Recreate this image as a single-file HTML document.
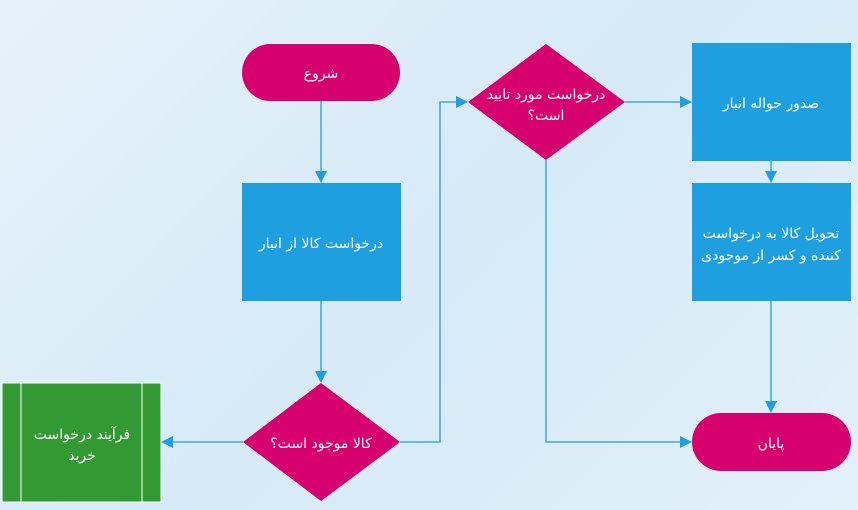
<!DOCTYPE html>
<html><head><meta charset="utf-8"><style>
html,body{margin:0;padding:0}
body{width:858px;height:510px;overflow:hidden;background:linear-gradient(135deg,#e6f2fb 0%,#d6eaf7 50%,#e2f0fa 100%);font-family:"Liberation Sans","Noto Sans CJK SC",sans-serif}
svg{position:absolute;left:0;top:0}
text{font-family:"DejaVu Sans","Noto Sans CJK SC",sans-serif;fill:#fff;font-size:14px;direction:rtl}
</style></head><body>
<svg width="858" height="510" viewBox="0 0 858 510">
<defs><marker id="a" markerWidth="12" markerHeight="12" refX="11" refY="6" orient="auto" markerUnits="userSpaceOnUse"><path d="M0,0 L12,6 L0,12 Z" fill="#1e9fe0"/></marker></defs>
<g stroke="#1e9fe0" stroke-width="1.3" fill="none">
<path d="M321,101 V182" marker-end="url(#a)"/>
<path d="M321,301 V382" marker-end="url(#a)"/>
<path d="M243,442 H162" marker-end="url(#a)"/>
<path d="M400,442 H440 V102 H467" marker-end="url(#a)"/>
<path d="M625,102 H691" marker-end="url(#a)"/>
<path d="M546,160 V442 H691" marker-end="url(#a)"/>
<path d="M771,161 V182" marker-end="url(#a)"/>
<path d="M771,301 V412" marker-end="url(#a)"/>
</g>
<rect x="242" y="44" width="158" height="57" rx="28.5" fill="#d6006f"/>
<rect x="242" y="183" width="159" height="118" fill="#1e9fe0"/>
<polygon points="321,383 400,442 321,501 243,442" fill="#d6006f"/>
<rect x="2" y="383" width="159" height="119" fill="#339933" stroke="#fff" stroke-width="1"/>
<line x1="21" y1="383" x2="21" y2="502" stroke="#fff"/>
<line x1="142" y1="383" x2="142" y2="502" stroke="#fff"/>
<polygon points="546,44 625,102 546,160 468,102" fill="#d6006f"/>
<rect x="692" y="43" width="159" height="118" fill="#1e9fe0"/>
<rect x="692" y="183" width="159" height="118" fill="#1e9fe0"/>
<rect x="692" y="413" width="159" height="58" rx="29" fill="#d6006f"/>
<text x="321" y="78" text-anchor="middle">شروع</text>
<text x="321" y="248" text-anchor="middle">درخواست کالا از انبار</text>
<text x="321" y="448" text-anchor="middle">کالا موجود است؟</text>
<text x="82" y="439" text-anchor="middle">فرآیند درخواست</text>
<text x="82" y="460" text-anchor="middle">خرید</text>
<text x="546" y="99" text-anchor="middle">درخواست مورد تایید</text>
<text x="546" y="120" text-anchor="middle">است؟</text>
<text x="771" y="108" text-anchor="middle">صدور حواله انبار</text>
<text x="771" y="238" text-anchor="middle">تحویل کالا به درخواست</text>
<text x="771" y="260" text-anchor="middle">کننده و کسر از موجودی</text>
<text x="771" y="448" text-anchor="middle">پایان</text>
</svg>
</body></html>
